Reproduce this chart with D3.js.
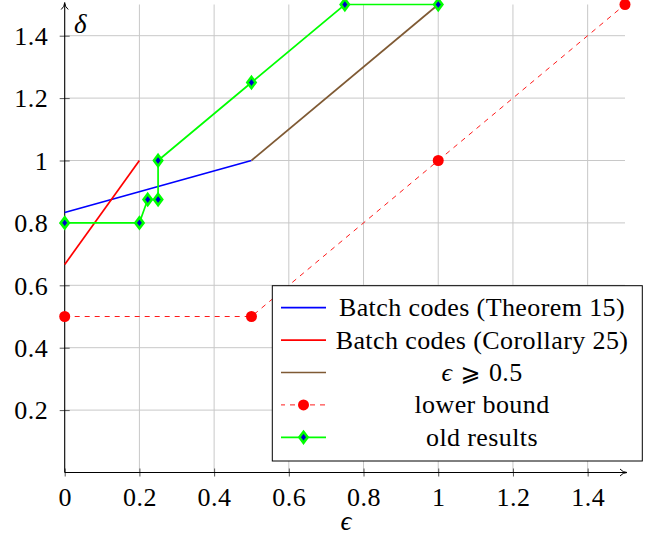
<!DOCTYPE html>
<html>
<head>
<meta charset="utf-8">
<script src="https://cdn.jsdelivr.net/npm/d3@7"></script>
<style>
  body { margin: 0; background: #fff; }
  svg { display: block; font-family: "Liberation Serif", "DejaVu Serif", serif; }
</style>
</head>
<body>
<script>
// data
const xTicks = [0, 0.2, 0.4, 0.6, 0.8, 1, 1.2, 1.4];
const yTicks = [0.2, 0.4, 0.6, 0.8, 1, 1.2, 1.4];

const theorem15 = [[0, 5 / 6], [0.5, 1]];
const corollary25 = [[0, 2 / 3], [0.2, 1]];
const epsHalf = [[0.5, 1], [1, 1.5]];
const lowerBound = [[0, 0.5], [0.5, 0.5], [1, 1], [1.5, 1.5]];
const oldResults = [[0, 0.8], [0.2, 0.8], [2 / 9, 0.875], [0.25, 0.875], [0.25, 1], [0.5, 1.25], [0.75, 1.5], [1, 1.5]];

const legendNames = ["Batch codes (Theorem 15)", "Batch codes (Corollary 25)", "eps", "lower bound", "old results"];

const width = 659, height = 540;

const x = d3.scaleLinear().domain([0, 1.5]).range([64.7, 625]);
const y = d3.scaleLinear().domain([0, 1.5]).range([472.5, 4.5]);

const svg = d3.select("body").append("svg")
  .attr("width", width)
  .attr("height", height);

// grid
const grid = svg.append("g").attr("stroke", "#c8c8c8").attr("stroke-width", 1);
grid.selectAll("line.v")
  .data(xTicks.filter((d) => d > 0))
  .join("line")
  .attr("x1", (d) => x(d)).attr("x2", (d) => x(d))
  .attr("y1", y(1.5)).attr("y2", y(0));
grid.selectAll("line.h")
  .data(yTicks)
  .join("line")
  .attr("x1", x(0)).attr("x2", x(1.5))
  .attr("y1", (d) => y(d)).attr("y2", (d) => y(d));

// axes
const fmt = d3.format("~g");
const xAxis = svg.append("g")
  .attr("transform", `translate(0,${y(0)})`)
  .call(d3.axisBottom(x).tickValues(xTicks).tickFormat(fmt).tickSizeInner(4).tickSizeOuter(0).tickPadding(11));
const yAxis = svg.append("g")
  .attr("transform", `translate(${x(0)},0)`)
  .call(d3.axisLeft(y).tickValues(yTicks).tickFormat(fmt).tickSizeInner(5).tickSizeOuter(0).tickPadding(11.5));

[xAxis, yAxis].forEach((a) => {
  a.select(".domain").remove();
  a.selectAll(".tick line").attr("stroke", "#555").attr("stroke-width", 1);
  a.selectAll(".tick text")
    .attr("font-family", "Liberation Serif, serif")
    .attr("font-size", 26)
    .attr("letter-spacing", 0.5)
    .attr("fill", "#000");
});
// ticks on both sides of the axis lines
xAxis.selectAll(".tick line").attr("y1", -4).attr("y2", 4);
yAxis.selectAll(".tick line").attr("x1", -5).attr("x2", 5);
yAxis.selectAll(".tick text").attr("dy", "0.34em");

// axis lines with arrows
svg.append("path")
  .attr("d", `M${x(0)},${y(0)}H${x(1.5) + 1}`)
  .attr("stroke", "#000").attr("stroke-width", 1.1).attr("fill", "none");
svg.append("path")
  .attr("d", `M${x(0)},${y(0)}V${y(1.5) - 0.5}`)
  .attr("stroke", "#000").attr("stroke-width", 1.1).attr("fill", "none");
svg.append("path")
  .attr("d", `M${x(1.5) - 5},${y(0) - 3.5} Q${x(1.5) - 2},${y(0)} ${x(1.5) + 2},${y(0)} Q${x(1.5) - 2},${y(0)} ${x(1.5) - 5},${y(0) + 3.5}`)
  .attr("stroke", "#000").attr("stroke-width", 1).attr("fill", "none");
svg.append("path")
  .attr("d", `M${x(0) - 3.5},${y(1.5) + 5} Q${x(0)},${y(1.5) + 2} ${x(0)},${y(1.5) - 2} Q${x(0)},${y(1.5) + 2} ${x(0) + 3.5},${y(1.5) + 5}`)
  .attr("stroke", "#000").attr("stroke-width", 1).attr("fill", "none");

// axis labels
svg.append("text")
  .attr("x", 74).attr("y", 33)
  .attr("font-size", 27).attr("font-style", "italic")
  .text("δ");
svg.append("text")
  .attr("x", 346).attr("y", 530)
  .attr("text-anchor", "middle")
  .attr("font-size", 27).attr("font-style", "italic")
  .text("ϵ");

// series
const line = d3.line().x((d) => x(d[0])).y((d) => y(d[1]));
const plot = svg.append("g").attr("fill", "none");

plot.append("path").datum(lowerBound).attr("d", line)
  .attr("stroke", "#ff0000").attr("stroke-width", 0.9).attr("stroke-dasharray", "5 5");
plot.append("path").datum(theorem15).attr("d", line)
  .attr("stroke", "#0000ff").attr("stroke-width", 1.7);
plot.append("path").datum(corollary25).attr("d", line)
  .attr("stroke", "#ff0000").attr("stroke-width", 1.7);
plot.append("path").datum(epsHalf).attr("d", line)
  .attr("stroke", "#7f5a34").attr("stroke-width", 1.7);
plot.append("path").datum(oldResults).attr("d", line)
  .attr("stroke", "#00ff00").attr("stroke-width", 1.7);

const diamond = (cx, cy, r) => `M${cx},${cy - r}L${cx + r * 0.75},${cy}L${cx},${cy + r}L${cx - r * 0.75},${cy}Z`;

svg.append("g").selectAll("circle")
  .data(lowerBound)
  .join("circle")
  .attr("cx", (d) => x(d[0])).attr("cy", (d) => y(d[1]))
  .attr("r", 5.5).attr("fill", "#ff0000");

svg.append("g").selectAll("path")
  .data(oldResults)
  .join("path")
  .attr("d", (d) => diamond(x(d[0]), y(d[1]), 5.5))
  .attr("fill", "#0000cc").attr("stroke", "#00ff00").attr("stroke-width", 2.6)
  .attr("stroke-linejoin", "miter");

// legend
const legend = svg.append("g");
legend.append("rect")
  .attr("x", 272.3).attr("y", 285.7)
  .attr("width", 370).attr("height", 175.3)
  .attr("fill", "#fff").attr("stroke", "#000").attr("stroke-width", 1);

const rowY = (i) => 307.7 + i * 32.4;
const styles = [
  { stroke: "#0000ff", width: 1.7 },
  { stroke: "#ff0000", width: 1.7 },
  { stroke: "#7f5a34", width: 1.7 },
  { stroke: "#ff0000", width: 0.9, dash: "5 5", mark: "circle" },
  { stroke: "#00ff00", width: 1.7, mark: "diamond" },
];

legendNames.forEach((name, i) => {
  const s = styles[i];
  const ly = rowY(i);
  legend.append("line")
    .attr("x1", 281).attr("x2", 326)
    .attr("y1", ly).attr("y2", ly)
    .attr("stroke", s.stroke).attr("stroke-width", s.width)
    .attr("stroke-dasharray", s.dash || null)
    .attr("stroke-dashoffset", s.dash ? 1 : null);
  if (s.mark === "circle") {
    legend.append("circle").attr("cx", 303.5).attr("cy", ly).attr("r", 5.5).attr("fill", "#ff0000");
  } else if (s.mark === "diamond") {
    legend.append("path").attr("d", diamond(303.5, ly, 5.5))
      .attr("fill", "#0000cc").attr("stroke", "#00ff00").attr("stroke-width", 2.6);
  }
  const t = legend.append("text")
    .attr("x", 482).attr("y", ly + 8.5)
    .attr("text-anchor", "middle")
    .attr("font-size", 26)
    .attr("letter-spacing", 0.4);
  if (name === "eps") {
    t.append("tspan").attr("font-style", "italic").text("ϵ");
    t.append("tspan").attr("font-family", "DejaVu Sans, sans-serif").attr("font-size", 24).text(" ⩾ ");
    t.append("tspan").text("0.5");
  } else {
    t.text(name);
  }
});
</script>
</body>
</html>
